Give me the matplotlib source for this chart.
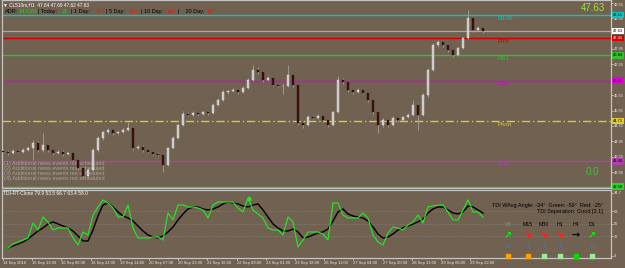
import numpy as np
import matplotlib
matplotlib.use('Agg')
import matplotlib.pyplot as plt
import matplotlib.transforms as mtransforms

plt.rcParams['font.family'] = ['Liberation Sans', 'DejaVu Sans']

# H1 chart sampled every 3rd bar
open_first = 43.74
close = [43.71, 43.67, 43.74, 43.71, 43.77, 43.84, 44.00, 43.77, 43.93, 43.77,
         43.67, 43.71, 43.64, 43.67, 43.45, 43.19, 42.93, 43.12, 43.77, 44.16,
         44.35, 44.42, 44.32, 44.35, 44.42, 44.48, 43.84, 43.87, 43.77, 43.71,
         43.64, 43.61, 43.28, 43.84, 44.16, 44.58, 44.94, 44.91, 44.97, 44.94,
         45.00, 44.97, 45.23, 45.39, 45.65, 45.68, 45.72, 45.65, 45.78, 46.04,
         46.37, 46.30, 46.04, 46.11, 45.88, 45.85, 45.85, 46.20, 45.88, 44.65,
         44.58, 44.84, 44.81, 44.87, 44.74, 44.58, 45.00, 46.04, 45.98, 45.72,
         45.65, 45.72, 45.62, 45.39, 45.00, 44.58, 44.74, 44.58, 44.81, 44.74,
         44.84, 44.91, 45.23, 44.91, 45.55, 46.37, 47.18, 47.27, 47.18, 47.01,
         46.85, 47.08, 47.40, 48.05, 47.66, 47.73, 47.63]
high = [43.80, 43.76, 43.79, 43.78, 43.82, 43.90, 44.10, 44.05, 44.32, 43.97,
        43.81, 43.76, 43.76, 43.72, 43.70, 43.48, 43.22, 43.18, 43.82, 44.22,
        44.40, 44.48, 44.46, 44.40, 44.47, 44.67, 44.52, 43.93, 43.92, 43.81,
        43.75, 43.70, 43.65, 43.88, 44.21, 44.62, 45.05, 45.00, 45.02, 45.01,
        45.05, 45.04, 45.28, 45.44, 45.70, 45.73, 45.77, 45.76, 45.83, 46.09,
        46.53, 46.45, 46.34, 46.16, 46.14, 45.92, 45.90, 46.53, 46.25, 45.92,
        44.72, 44.90, 44.90, 44.93, 44.91, 44.78, 45.05, 46.17, 46.10, 46.02,
        45.76, 45.77, 45.75, 45.66, 45.42, 45.03, 44.80, 44.78, 44.86, 44.85,
        44.88, 44.96, 45.40, 45.30, 45.62, 46.42, 47.25, 47.33, 47.32, 47.22,
        47.05, 47.12, 47.45, 48.30, 48.08, 47.78, 47.76]
low = [43.66, 43.62, 43.63, 43.66, 43.68, 43.74, 43.45, 43.70, 43.72, 43.70,
       43.62, 43.64, 43.58, 43.60, 43.40, 43.12, 42.86, 42.90, 43.08, 43.72,
       44.10, 44.30, 44.26, 44.28, 44.31, 44.38, 43.78, 43.80, 43.72, 43.66,
       43.60, 43.56, 43.06, 43.25, 43.80, 44.12, 44.54, 44.86, 44.88, 44.88,
       44.90, 44.92, 44.94, 45.20, 45.35, 45.60, 45.64, 45.60, 45.62, 45.74,
       46.00, 46.25, 45.98, 46.00, 45.83, 45.80, 45.60, 45.80, 45.82, 44.58,
       44.48, 44.55, 44.76, 44.78, 44.68, 44.52, 44.55, 44.96, 45.92, 45.66,
       45.60, 45.62, 45.57, 45.34, 44.95, 44.32, 44.52, 44.52, 44.55, 44.68,
       44.70, 44.80, 44.88, 44.42, 44.86, 45.50, 46.32, 47.10, 47.12, 46.96,
       46.80, 46.82, 47.04, 47.36, 47.60, 47.62, 47.58]

tdi_green = [15.0, 15.0, 20.8, 23.7, 26.6, 29.5, 51.2, 41.1, 59.9, 52.7,
             41.1, 44.0, 44.0, 44.0, 29.5, 19.3, 38.2, 33.8, 62.8, 74.4,
             84.6, 80.2, 73.0, 59.9, 59.9, 77.3, 44.0, 29.5, 29.5, 29.5,
             30.9, 30.9, 26.6, 65.7, 55.6, 77.3, 77.3, 74.4, 74.4, 73.0,
             70.1, 58.5, 77.3, 81.7, 81.7, 81.7, 81.7, 73.0, 67.2, 87.5,
             70.1, 64.3, 58.5, 44.0, 41.1, 41.1, 33.8, 59.9, 52.7, 16.4,
             26.6, 38.2, 38.2, 38.2, 35.3, 26.6, 80.2, 80.2, 62.8, 58.5,
             58.5, 58.5, 65.7, 58.5, 33.8, 23.7, 19.3, 36.7, 45.4, 44.0,
             41.1, 48.3, 52.7, 62.8, 51.2, 74.4, 75.9, 77.3, 77.3, 67.2,
             55.6, 55.6, 70.1, 84.6, 67.2, 67.2, 59.9]
tdi_black = [15.0, 15.0, 17.9, 20.8, 23.7, 28.0, 33.8, 39.6, 44.0, 49.8,
             52.7, 49.8, 46.9, 44.0, 39.6, 32.4, 25.2, 25.2, 41.1, 61.4,
             77.3, 80.2, 74.4, 67.2, 61.4, 58.5, 54.1, 46.9, 39.6, 33.8,
             30.9, 29.5, 32.4, 38.2, 45.4, 55.6, 64.3, 71.5, 74.4, 74.4,
             71.5, 70.1, 71.5, 74.4, 78.8, 81.7, 80.2, 78.8, 75.9, 74.4,
             77.3, 78.8, 70.1, 59.9, 49.8, 44.0, 39.6, 39.6, 42.5, 38.2,
             29.5, 30.9, 33.8, 36.7, 38.2, 42.5, 54.1, 67.2, 71.5, 64.3,
             61.4, 59.9, 58.5, 54.1, 45.4, 35.3, 29.5, 30.9, 35.3, 41.1,
             44.0, 46.9, 49.8, 52.7, 57.0, 65.7, 71.5, 74.4, 74.4, 70.1,
             65.7, 64.3, 67.2, 75.9, 74.4, 70.1, 65.7]

time_labels = ['14 Sep 2016', '15 Sep 13:00', '16 Sep 06:00', '16 Sep 22:00',
               '19 Sep 14:00', '20 Sep 07:00', '20 Sep 23:00', '21 Sep 16:00',
               '22 Sep 09:00', '23 Sep 01:00', '23 Sep 18:00', '26 Sep 11:00',
               '27 Sep 04:00', '27 Sep 20:00', '28 Sep 13:00', '29 Sep 06:00',
               '29 Sep 22:00']

level_names = ['R100', 'R78', 'R61', 'R38', 'Pivot', 'S38', 'S61']
level_values = [48.15, 47.41, 46.84, 46.02, 44.71, 43.40, 42.58]
level_colors = ['#00c8c8', '#d00000', '#30c030', '#e000e0', '#d8cc30', '#b040b0', '#30d030']
last_price = 47.63

price_ticks = [48.55, 48.05, 47.05, 46.55, 45.55, 45.05, 44.55, 44.05, 43.55, 43.05]
tdi_ticks = [94.7, 68, 50, 32, 4]

BG = '#706150'
AXC = '#c4c4c4'
TXT = '#e8e8e8'

fig = plt.figure(figsize=(6.25, 2.68), dpi=100)
fig.patch.set_facecolor(BG)

ax = fig.add_axes([2/625, 80/268, 609/625, 188/268])
ax2 = fig.add_axes([2/625, 10/268, 609/625, 68/268])

close = np.array(close)
high = np.array(high)
low = np.array(low)
opens = np.r_[open_first, close[:-1]]
x = np.arange(len(close))
up = close >= opens

for a in (ax, ax2):
    a.set_facecolor(BG)
    a.set_xlim(-0.2, 121.6)
    for s in a.spines.values():
        s.set_color(AXC)
        s.set_linewidth(0.9)
    a.yaxis.tick_right()
    a.tick_params(axis='y', colors=TXT, labelsize=2.9, length=1.5, width=0.5, pad=0.8)

# levels
for name, val, col in zip(level_names, level_values, level_colors):
    ls = (0, (6, 2, 1, 2)) if name == 'Pivot' else '-'
    ax.axhline(val, color=col, lw=1.0, ls=ls, zorder=1)
    ax.text(98.8, val - 0.03, name, color=col, fontsize=4.6, va='top', ha='left',
            clip_on=True, zorder=2)
ax.axhline(last_price, color='#a8a8a8', lw=0.9, zorder=1)

# candles
ax.vlines(x, low, high, color='#a0a0a0', lw=0.6, zorder=3)
ax.bar(x[up], (close - opens)[up], bottom=opens[up], width=0.5,
       color='#c8c8c8', edgecolor='#e4e4e4', lw=0.3, zorder=4)
ax.bar(x[~up], (close - opens)[~up], bottom=opens[~up], width=0.5,
       color='#4a0a0a', edgecolor='#1c1c1c', lw=0.3, zorder=4)

ax.set_ylim(42.536, 48.636)
ax.set_yticks(price_ticks)
ax.set_yticklabels(['%.2f' % t for t in price_ticks])
ax.get_yticklabels()[0].set_va('top')
ax.set_xticks([])

# price boxes on the right scale
tr = mtransforms.blended_transform_factory(ax.transAxes, ax.transData)
box_vals = level_values + [last_price]
box_cols = level_colors + ['#ffffff']
for val, col in zip(box_vals, box_cols):
    tc = 'white' if col == '#d00000' else 'black'
    ax.text(1.003, val, '%.2f' % val, transform=tr, fontsize=2.9, color=tc,
            va='center', ha='left', clip_on=False, zorder=10,
            bbox=dict(boxstyle='square,pad=0.3', fc=col, ec='none'))

ax.text(0.99, 0.985, '%.2f' % last_price, transform=ax.transAxes,
        fontsize=7, color='#a8e040', ha='right', va='top')
ax.text(0.98, 0.085, '0.0', transform=ax.transAxes, fontsize=7,
        color='#40c040', ha='right', va='center')

news = ['(%d) Additional news events not scheduled' % i for i in range(1, 5)]
for k, line in enumerate(news):
    ax.text(0.3, 43.33 - k * 0.165, line, fontsize=4.0, color='#a8a49a',
            va='center', ha='left')

# TDI panel
for lv in (68, 50, 32):
    ax2.axhline(lv, color='#8c8c8c', lw=0.5, ls=':')
ax2.plot(x, tdi_black, color='black', lw=1.0)
ax2.plot(x, tdi_green, color='#28e028', lw=0.9)
ax2.plot([49.2], [88], marker='^', color='#30e030', ms=2.5, ls='none')
ax2.set_ylim(0.5, 99.0)
ax2.set_yticks(tdi_ticks)
ax2.set_yticklabels(['94.7', '68', '50', '32', '4'])
ax2.set_xticks([5.84 * k for k in range(len(time_labels))])
ax2.set_xticklabels(time_labels, ha='left')
ax2.tick_params(axis='x', colors=TXT, labelsize=3.0, length=1.5, width=0.5, pad=1)

# overlay in pixel coordinates for header and dashboard texts
ov = fig.add_axes([0, 0, 1, 1])
ov.set_xlim(0, 625)
ov.set_ylim(268, 0)
ov.axis('off')
ov.patch.set_alpha(0)

ov.text(3, 4.5, '\u25bc CL510m,H1  47.64 47.69 47.62 47.63', fontsize=3.4,
        color='white', va='center', ha='left')
adr_parts = [(5, 'ADR:', 'black'), (19, '14.63%', '#10e010'), (38, '| Today:', 'black'),
             (62, '21', '#10e010'), (71, '| 1 Day:', 'black'), (96, '174', '#ff1010'),
             (106, '| 5 Day:', 'black'), (129, '212', '#ff1010'), (141, '| 10 Day:', 'black'),
             (167, '162', '#ff1010'), (178, '|    20 Day:', 'black'), (207, '157', '#ff1010')]
for px, t, c in adr_parts:
    ov.text(px, 11.5, t, fontsize=4.0, color=c, va='center', ha='left')

ov.text(3, 193.5, 'TDI-RT-Clone 79.9 53.5 66.7 63.4 58.0', fontsize=3.5,
        color='white', va='center', ha='left')
ov.text(603, 205, 'TDI WAvg Angle: -34\u00b0  Green: -59\u00b0  Red: -25\u00b0',
        fontsize=4.0, color='black', va='center', ha='right')
ov.text(603, 212, 'TDI Seperation: Good [3.1]', fontsize=4.0, color='black',
        va='center', ha='right')

tf_names = ['M5', 'M15', 'M30', 'H1', 'H4', 'D1']
tf_x = [508, 528, 544, 560, 576, 592]
tf_arrows = ['\u2197', '\u2198', '\u2198', '\u2198', '\u2192', '\u2197']
tf_arrow_cols = ['#20e020', '#ff2020', '#ff2020', '#ff2020', 'black', '#20e020']
tf_box_cols = ['#ffa000', '#ffa000', '#a0e8a0', '#a0e8a0', '#00e000', '#a0e8a0']
for i, (nm, px) in enumerate(zip(tf_names, tf_x)):
    ov.text(px, 224, nm, fontsize=3.8, color='#8a8a80' if nm == 'M5' else 'black',
            ha='center', va='center')
    ov.text(px, 235, tf_arrows[i], fontsize=7, color=tf_arrow_cols[i],
            ha='center', va='center', fontweight='bold', family='DejaVu Sans')
    if nm == 'D1':
        ov.plot(px, 245, marker='o', ms=3.2, mfc='none', mec='#6a6a74', mew=0.8)
    else:
        ov.plot(px, 245, marker='o', ms=1.6 if nm == 'H4' else 3.0,
                color='#66666e', mec='#66666e')
    ov.plot(px, 256, marker='s', ms=3.0, color=tf_box_cols[i], mec=tf_box_cols[i])

fig.savefig('out.png', dpi=100, facecolor=BG)
